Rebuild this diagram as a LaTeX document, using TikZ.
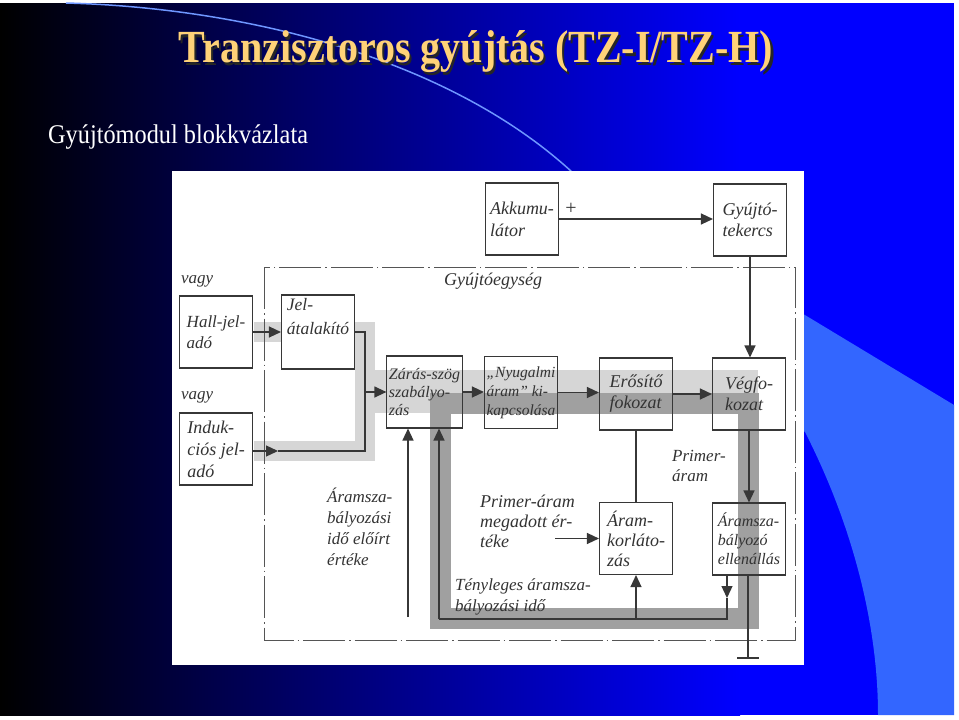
\documentclass[tikz,border=0pt]{standalone}
\usepackage{fontspec}
\setmainfont{Liberation Serif}
\usetikzlibrary{arrows.meta, positioning, calc}

\definecolor{slideblue}{RGB}{0,0,255}
\definecolor{paleblue}{RGB}{51,102,255}
\definecolor{arcblue}{RGB}{110,150,255}
\definecolor{titlegold}{RGB}{255,210,120}
\definecolor{ink}{RGB}{55,55,55}
\definecolor{bandlight}{RGB}{214,214,214}
\definecolor{banddark}{RGB}{160,160,160}

\newcommand{\diafont}[2]{\fontsize{#1}{#2}\selectfont}
\newcommand{\titletext}{Tranzisztoros gyújtás (TZ-I/TZ-H)}

\begin{document}
\begin{tikzpicture}[
  x=1pt, y=-1pt,
  >={Triangle[length=12pt,width=11pt]},
  %% -- block styles -------------------------------------------------------
  box/.style={
    draw=ink, line width=1.1pt,
    minimum width=73pt, minimum height=72pt,
    inner xsep=2pt, align=left,
    text=black!80, font=\itshape\diafont{17}{21}
  },
  %% -- connector styles ---------------------------------------------------
  arr/.style={->, draw=ink, line width=1.3pt},
  wire/.style={draw=ink, line width=1.3pt},
  %% -- annotation styles --------------------------------------------------
  lbl/.style={text=black!80, font=\itshape\diafont{17}{21}, align=left, inner sep=0pt},
  frame/.style={draw=ink!85, line width=1pt,
    dash pattern=on 42pt off 4pt on 1.5pt off 4pt},
]
\useasboundingbox (0,0) rectangle (959,720);

%% ======================================================================
%% SLIDE BACKGROUND
%% ======================================================================
\fill[white] (0,0) rectangle (959,720);
\shade[left color=black, right color=slideblue] (0,3) rectangle (740,715);
\fill[slideblue] (740,3) rectangle (954,715);
\fill[paleblue] (790,306) -- (954,405) -- (954,715) -- (878,715)
  .. controls (878,620) and (850,520) .. (805,432) -- (790,420) -- cycle;
\draw[arcblue, line width=1.5pt] (66,3) .. controls (250,8) and (450,60) .. (572,172);

%% -- title (with its drop shadow) and subtitle -------------------------
\node[anchor=base, inner sep=0pt, font=\bfseries\diafont{46}{46}]
  (title) at (476,62.5)
  {\scalebox{0.87}[1]{\makebox[0pt][l]{\raisebox{-2.5pt}{\hspace{2.5pt}\color{black!85}\titletext}}%
   \color{titlegold}\titletext}};
\node[anchor=base west, inner sep=0pt, text=white, font=\diafont{27}{27}]
  (subtitle) at (48,143) {\scalebox{0.9}[1]{Gyújtómodul blokkvázlata}};

%% ======================================================================
%% DIAGRAM SHEET AND SIGNAL BANDS
%% ======================================================================
\fill[white] (172,171) rectangle (804,665);

\draw[bandlight, line width=20pt] (254,332) -- (365,332) -- (365,451) -- (254,451);
\fill[bandlight] (355,370) rectangle (758,413);
\draw[banddark, line width=21pt] (440,403) rectangle (748,618);

\draw[frame] (264,267) rectangle (795,640);

%% ======================================================================
%% BLOCKS
%% ======================================================================
\node[box, font=\itshape\diafont{18}{22}] (akku) at (522,219) {Akkumu-\\látor};
\node[box, font=\itshape\diafont{18}{21}] (tekercs) at (750,220) {Gyújtó-\\tekercs};

\node[box] (hall) at (216,332) {Hall-jel-\\adó};
\node[box, fill=white, font=\itshape\diafont{17.5}{24}] (jel) at (318,332) {Jel-\\átalakító\\ \strut};
\node[box, font=\itshape\diafont{18}{22}] (induk) at (216,449) {Induk-\\ciós jel-\\adó};

\node[box, font=\itshape\diafont{16}{18}] (zaras) at (424.5,392) {Zárás-szög\\szabályo-\\zás};
\node[box, font=\itshape\diafont{15.5}{19}] (nyug) at (521,392.5) {„Nyugalmi\\áram” ki-\\kapcsolása};
\node[box, font=\itshape\diafont{18}{21}] (erosito) at (636,394) {Erősítő\\fokozat};
\node[box, font=\itshape\diafont{18}{21}] (veg) at (749,394) {Végfo-\\kozat};

\node[box, font=\itshape\diafont{18}{20}] (korl) at (636,538.5) {Áram-\\korláto-\\zás};
\node[box, font=\itshape\diafont{16}{19}] (ellen) at (749,539) {Áramsza-\\bályozó\\ellenállás};

%% ======================================================================
%% CONNECTORS
%% ======================================================================
\draw[arr] (akku.east) -- (akku.east -| tekercs.west);
\draw[arr] (tekercs.south) -- (tekercs.south |- veg.north);

\coordinate (bus) at (365,392);
\coordinate (indtip) at (278,451);
\draw[arr] (hall) -- (jel);
\draw[wire] (jel.east) -| (bus);
\draw[arr] (induk.east |- indtip) -- (indtip);
\draw[wire] (indtip) -| (bus);
\draw[arr] (bus) -- (zaras);

\draw[arr] (zaras.east) -- (zaras.east -| nyug.west);
\draw[arr] (nyug.east) -- (nyug.east -| erosito.west);
\draw[arr] (erosito) -- (veg);
\draw[wire] (erosito) -- (korl);
\draw[arr] (veg) -- (ellen);

%% -- feedback loop -----------------------------------------------------
\coordinate (fbA) at (727,598);
\coordinate (fbR) at (727,619);
\coordinate (fbK) at (636,619);
\coordinate (fbL) at (439,619);
\draw[arr] (ellen.south -| fbA) -- (fbA);
\draw[wire] (fbA) -- (fbR) -- (fbL);
\draw[arr] (fbL) -- (fbL |- zaras.south);
\draw[arr] (fbK) -- (korl);

\coordinate (idoset) at (408,617);
\draw[arr] (idoset) -- (idoset |- zaras.south);
\coordinate (pmset) at (555,538.5);
\draw[arr] (pmset) -- (korl);

\coordinate (gnd) at (748,658);
\draw[wire] (ellen.south -| gnd) -- (gnd);
\draw[wire, line width=1.8pt] ($(gnd)+(-11,0)$) -- ($(gnd)+(11,0)$);

%% ======================================================================
%% LABELS
%% ======================================================================
\node[lbl, font=\diafont{20}{20}] (plus) at (571,209) {+};
\node[lbl, anchor=west] (vagya) at (181,281) {vagy};
\node[lbl, anchor=west] (vagyb) at (181,397) {vagy};
\node[lbl, anchor=west, font=\itshape\diafont{18}{21}] (egyseg) at (444,281) {Gyújtóegység};
\node[lbl, anchor=west, font=\itshape\diafont{17}{20}] (primer) at (672,466) {Primer-\\áram};
\node[lbl, anchor=west, font=\itshape\diafont{18}{20}] (megadott) at (480,521) {Primer-áram\\megadott ér-\\téke};
\node[lbl, anchor=west] (eloirt) at (327,527) {Áramsza-\\bályozási\\idő előírt\\értéke};
\node[lbl, anchor=west] (tenyleges) at (455,597) {Tényleges áramsza-\\bályozási idő};

\end{tikzpicture}
\end{document}
